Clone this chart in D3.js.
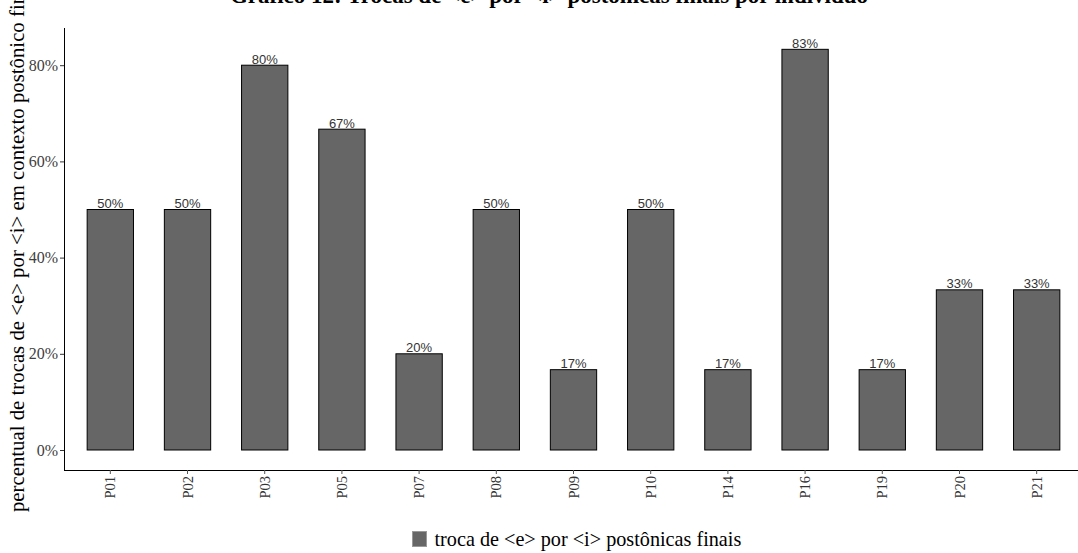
<!DOCTYPE html>
<html><head><meta charset="utf-8">
<script src="https://cdn.jsdelivr.net/npm/d3@7"></script>
<style>body{margin:0;background:#fff}svg{display:block}</style>
</head><body>
<svg id="c" width="1078" height="553"></svg>
<script>
const categories = ["P01","P02","P03","P05","P07","P08","P09","P10","P14","P16","P19","P20","P21"];
const values = [0.50,0.50,0.80,0.667,0.20,0.50,0.167,0.50,0.167,0.833,0.167,0.333,0.333];
const valueLabels = ["50%","50%","80%","67%","20%","50%","17%","50%","17%","83%","17%","33%","33%"];
const yTicks = [0,0.2,0.4,0.6,0.8];
const titleText = "Gráfico 12: Trocas de <e> por <i> postônicas finais por indivíduo";
const yTitle = "percentual de trocas de <e> por <i> em contexto postônico final";
const legendLabel = "troca de <e> por <i> postônicas finais";

const svg = d3.select("#c");
const x = d3.scaleBand().domain(categories).range([64,1083]).paddingInner(0.4).paddingOuter(0.3);
const y = d3.scaleLinear().domain([0,1]).range([450,-31]);
const serif = "'Liberation Serif','Times New Roman',serif";

// title
svg.append("text").attr("x",549).attr("y",3).attr("text-anchor","middle")
  .attr("font-family",serif).attr("font-weight","bold").attr("font-size",23).text(titleText);

// bars
svg.append("g").selectAll("rect").data(categories).join("rect")
  .attr("x",d=>x(d)).attr("width",x.bandwidth())
  .attr("y",(d,i)=>y(values[i])).attr("height",(d,i)=>y(0)-y(values[i]))
  .attr("fill","#666666").attr("stroke","#000").attr("stroke-width",1);

svg.append("g").selectAll("text").data(categories).join("text")
  .attr("x",d=>x(d)+x.bandwidth()/2).attr("y",(d,i)=>y(values[i])-1.5)
  .attr("text-anchor","middle").attr("font-family","'Liberation Sans',Arial,sans-serif")
  .attr("font-size",13).attr("fill","#333").text((d,i)=>valueLabels[i]);

// y axis
const ya = svg.append("g").attr("transform","translate(64,0)")
  .call(d3.axisLeft(y).tickValues(yTicks).tickFormat(d3.format(".0%")).tickSize(4).tickPadding(2));
ya.select(".domain").attr("d","M0.5,28V470.5");
ya.selectAll("text").attr("font-family",serif).attr("font-size",16).attr("fill","#404040");
ya.selectAll("line").attr("stroke","#333");

// x axis
const xa = svg.append("g").attr("transform","translate(0,470)")
  .call(d3.axisBottom(x).tickSize(4).tickPadding(3));
xa.select(".domain").attr("d","M64,0.5H1078");
xa.selectAll("line").attr("stroke","#555");
xa.selectAll("text").attr("font-family",serif).attr("font-size",14.5).attr("fill","#333")
  .attr("transform","rotate(-90)").attr("text-anchor","end").attr("dy","0.35em")
  .attr("x",-6).attr("y",0);

// y title
svg.append("text").attr("transform","translate(24,245.5) rotate(-90)").attr("text-anchor","middle")
  .attr("font-family",serif).attr("font-size",20.8).text(yTitle);

// legend
svg.append("rect").attr("x",412.5).attr("y",531.5).attr("width",14).attr("height",15)
  .attr("fill","#666666").attr("stroke","#999");
svg.append("text").attr("x",434.5).attr("y",546).attr("font-family",serif).attr("font-size",20.2).text(legendLabel);
</script>
</body></html>
